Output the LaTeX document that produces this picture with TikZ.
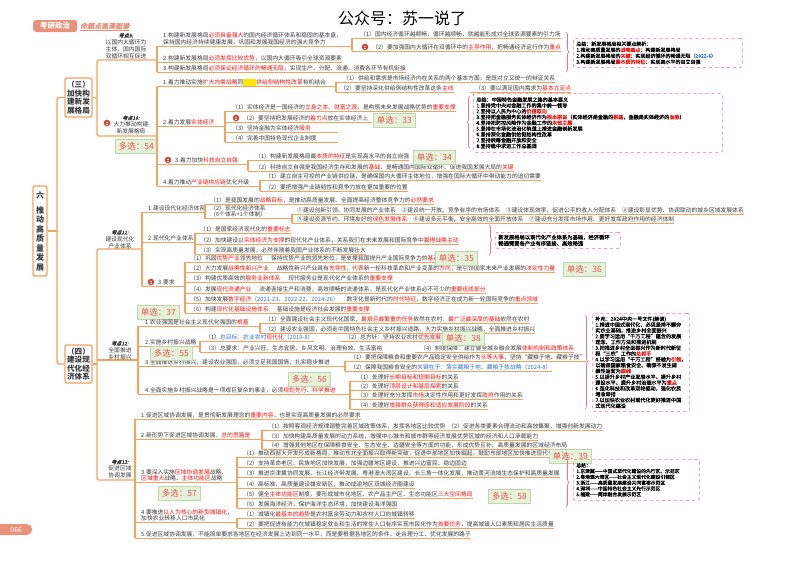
\documentclass[tikz,border=0pt]{standalone}
\usepackage{fontspec}
\setmainfont{Noto Sans CJK SC}
\newfontfamily\kdf[FakeSlant=0.2,FakeBold=2]{Noto Sans CJK SC}
\newfontfamily\sumf[FakeBold=0.6]{Noto Sans CJK SC}
\usetikzlibrary{decorations.pathreplacing}
\definecolor{lc}{HTML}{F3A35E}
\definecolor{hl}{HTML}{E8150F}
\definecolor{blu}{HTML}{2F6FD0}
\definecolor{tc}{HTML}{3A3A3A}
\definecolor{pk}{HTML}{F0708A}
\definecolor{gf}{HTML}{E6F1DA}
\definecolor{gd}{HTML}{BCD9A6}
\definecolor{gt}{HTML}{E2574C}
\definecolor{sal}{HTML}{E8927C}
\definecolor{ic}{HTML}{E03A2E}
\definecolor{yhl}{HTML}{FFE600}
\newcommand\hlr[1]{\textcolor{hl}{#1}}
\newcommand\hlb[1]{\textcolor{blu}{#1}}
\newcommand\kdh[1]{{\kdf\fontsize{5}{7}\selectfont #1}}
\newcommand\ybx{{\setlength{\fboxsep}{0pt}\colorbox{yhl}{\rule[-1.5pt]{0pt}{7pt}\hspace{13pt}}}}
\newcommand\itm[5]{%
 \node[txt] (#1) at (#3,#4) {#5};
 \coordinate (#1e) at ([yshift=-1.2pt]#1.south east);
 \coordinate (#1s) at (#2,0);
 \draw[ul] (#1e) -- (#1e -| #1s);}
\newcommand\ext[2]{\coordinate (#1x) at (#2,0);\draw[ul] (#1e) -- (#1e -| #1x);}
\newcommand\brk[2]{\draw[ul] (#1e -| #1s) -- (#2e -| #2s);}
\newcommand\sel[4]{\node[selbox] (#1) at (#2,#3) {#4};}
\newcommand\icon[3]{\node[iconc] (#1) at (#2,#3) {};
 \draw[white,line width=0.5pt] ([xshift=-1.3pt,yshift=0.7pt]#1.center) -- ([xshift=1.3pt,yshift=0.7pt]#1.center)
 ([xshift=-1.3pt,yshift=-0.8pt]#1.center) -- ([xshift=0.5pt,yshift=-0.8pt]#1.center);}
\begin{document}
\begin{tikzpicture}[x=1pt,y=-1pt,
 txt/.style={inner sep=0pt, font=\fontsize{5.8}{6.5}\selectfont, text=tc, anchor=west, align=left},
 ul/.style={draw=lc, line width=1.1pt},
 conn/.style={draw=lc, line width=1.3pt, rounded corners=2pt},
 kd/.style={inner sep=0pt, align=center, font=\fontsize{5.8}{7}\selectfont, text=tc},
 bigbox/.style={draw=lc, line width=1.3pt, rounded corners=2pt, fill=white, align=center, inner sep=1pt, text=tc},
 selbox/.style={anchor=north west, fill=gf, draw=gd, line width=0.6pt, minimum width=42pt, minimum height=13.5pt, inner sep=0pt, text=gt, font=\fontsize{8.5}{9}\selectfont},
 iconc/.style={circle, fill=ic, minimum size=6.5pt, inner sep=0pt},
 sumbox/.style={anchor=north west, draw=pk, dashed, line width=0.7pt, rounded corners=2pt, align=left, text=black, inner sep=3pt, font=\sumf\fontsize{5}{6}\selectfont},
 brc/.style={draw=pk, line width=0.7pt, decorate, decoration={brace, amplitude=3pt}}
]
\useasboundingbox (0,0) rectangle (800,562);
\fill[white] (0,0) rectangle (800,562);

% header
\node[fill=sal, rounded corners=3pt, text=white, font=\fontsize{7.5}{8}\selectfont\bfseries, minimum width=44pt, minimum height=12pt, inner sep=0pt, anchor=west] (hd1) at (33,26) {考研政治};
\node[text=sal, font=\kdf\fontsize{7}{8}\selectfont, anchor=west, inner sep=0pt] (hd2) at (80,26) {命题点高清图谱};
\draw[sal, line width=0.6pt] ([yshift=-1pt]hd2.south west) -- ([yshift=-1pt]hd2.south east);
\node[font=\fontsize{16}{18}\selectfont, text=black] (title) at (402,18) {公众号：苏一说了};

% main boxes
\node[bigbox, minimum width=14pt, minimum height=90pt, font=\fontsize{8}{9.5}\selectfont\bfseries] (liu) at (40,231) {六\\[5.5pt]推\\动\\高\\质\\量\\发\\展};
\node[bigbox, minimum width=27pt, minimum height=39pt, font=\fontsize{7.6}{8.5}\selectfont\bfseries] (san) at (78.5,97.5) {（三）\\加快构\\建新发\\展格局};
\node[bigbox, minimum width=27pt, minimum height=38pt, font=\fontsize{7.6}{8.5}\selectfont\bfseries] (si) at (78.5,364) {（四）\\建设现\\代化经\\济体系};

\draw[conn] (liu.east) -- (57,231);
\draw[conn] (san.west) -- (57,97.5) -- (57,364) -- (si.west);
\draw[conn] (san.east) -- (97,97.5);
\draw[conn] (157,60) -- (97,60) -- (97,136) -- (157,136);
\draw[conn] (si.east) -- (97,364);
\draw[conn] (142,249) -- (97,249) -- (97,480) -- (135,480);
\draw[conn] (97,360) -- (138,360);

% kaodian labels
\node[kd] (k9) at (126,46) {\kdh{考点9:}\\以国内大循环为\\主体、国内国际\\双循环相互促进};
\node[kd] (k10) at (131,125) {\kdh{考点10:}\\大力推动构建\\新发展格局};
\icon{ik10}{107}{123}
\sel{s54}{115}{139}{多选：54}
\node[kd] (k11) at (120,239.5) {\kdh{考点11:}\\建设现代化\\产业体系};
\node[kd] (k12) at (120,350.5) {\kdh{考点12:}\\全面推进\\乡村振兴};
\node[kd] (k13) at (120,469) {\kdh{考点13:}\\促进区域\\协调发展};

% ===== kaodian 9
\itm{a1}{157}{163}{39}{1.构建新发展格局\hlr{必须具备强大}的国内经济循环体系和稳固的基本盘，\\保持国内经济持续健康发展，巩固和发展我国经济的强大竞争力}
\itm{a2}{157}{163}{58}{2.构建新发展格局\hlr{必须发挥比较优势}，以国内大循环吸引全球资源要素}
\itm{a3}{157}{163}{68}{3.构建新发展格局\hlr{必须保证经济循环的畅通无阻}，实现生产、分配、流通、消费各环节有机衔接}
\brk{a1}{a3}
\itm{a11}{352}{360}{34}{（1）国内经济循环越顺畅，循环越顺畅，就越能形成对全球资源要素的引力场}
\icon{ia12}{365}{47}
\itm{a12}{352}{372}{47}{（2）要加强国内大循环在双循环中的\hlr{主导作用}，把畅通经济运行作为\hlr{重点}}
\ext{a1}{352}
\brk{a11}{a12}
\draw[brc] (566,32) -- (566,72);
\node[sumbox, minimum width=169pt, minimum height=29pt, text width=163pt] (sum1) at (573,38) {总结：新发展格局相关要点解析：\\1.推动高质量发展的\hlr{战略基点}：构建新发展格局\\2.构建新发展格局的\hlr{关键}：实现经济循环的畅通无阻\hlb{（2022-6）}\\3.构建新发展格局\hlr{最本质的特征}：实现高水平的自立自强};

% ===== kaodian 10
\itm{b1}{157}{163}{82}{1.着力推动实施\hlr{扩大内需战略}同\ybx\hlr{供给侧结构性改革}有机结合}
\itm{b2}{157}{163}{122}{2.着力发展\hlr{实体经济}}
\icon{ib3}{168}{160}
\itm{b3}{157}{175}{160}{3.着力加快\hlr{科技自立自强}}
\itm{b4}{157}{163}{182}{4.着力推动\hlr{产业链供应链}优化升级}
\brk{b1}{b4}
\itm{b11}{336}{343}{78}{（1）供给和需求是市场经济内在关系的两个基本方面，是既对立又统一的辩证关系}
\itm{b12}{336}{340}{88}{（2）要坚持深化供给侧结构性改革这条\hlr{主线}}
\itm{b13}{470}{475}{88}{（3）要以满足国内需求为\hlr{基本立足点}}
\ext{b1}{336}
\brk{b11}{b12}
\itm{b21}{225}{232}{107}{（1）实体经济是一国经济的\hlr{立身之本、财富之源}，是构筑未来发展战略优势的\hlr{重要支撑}}
\icon{ib22}{236}{118}
\itm{b22}{225}{243}{118}{（2）要坚持把发展经济的\hlr{着力点}放在实体经济上}
\itm{b23}{225}{232}{128}{（3）坚持金融为实体经济\hlr{服务}}
\itm{b24}{225}{232}{138}{（4）完善中国特色现代企业制度}
\ext{b2}{225}
\ext{b22}{372}
\ext{b23}{338}
\ext{b24}{338}
\brk{b21}{b24}
\sel{s33}{373}{113}{单选：33}
\draw[brc] (470,148) -- (470,96);
\node[sumbox, minimum width=249pt, minimum height=59pt, text width=243pt, font=\sumf\fontsize{5.1}{5.8}\selectfont] (sum2) at (473,93) {总结：中国特色金融发展之路的基本要义\\1.坚持党中央对金融工作的集中统一领导\\2.坚持以人民为中心的\hlr{价值取向}\\3.坚持把金融服务实体经济作为\hlr{根本宗旨}（实体经济是金融的\hlr{根基}，金融是实体经济的\hlr{血脉}）\\4.坚持把防控风险作为金融工作的\hlr{永恒主题}\\5.坚持在市场化法治化轨道上推进金融创新发展\\6.坚持深化金融供给侧结构性改革\\7.坚持统筹金融开放和安全\\8.坚持稳中求进工作总基调};
\itm{b31}{248}{255}{156}{（1）构建新发展格局最\hlr{本质的特征}是实现高水平的自立自强}
\itm{b32}{248}{255}{167}{（2）科技自立自强是我国经济生存和发展的\hlr{基础}，是畅通国内国际双循环、促进我国发展大局的\hlr{关键}}
\ext{b3}{248}
\brk{b31}{b32}
\sel{s34}{413}{150}{单选：34}
\itm{b41}{260}{265}{176}{（1）建立自主可控的产业链供应链，是确保国内大循环主体地位，增强在国际大循环中带动能力的迫切需要}
\itm{b42}{260}{265}{187}{（2）要把增强产业链韧性和竞争力放在更加重要的位置}
\ext{b4}{260}
\brk{b41}{b42}

% ===== kaodian 11
\itm{c1}{142}{148}{208}{1.建设现代化经济体系}
\itm{c2}{142}{148}{238}{2.现代化产业体系}
\icon{ic3}{151}{282}
\itm{c3}{142}{158}{282}{3.要求}
\brk{c1}{c3}
\itm{c11}{205}{210}{200}{（1）是我国发展的\hlr{战略目标}，是推动高质量发展、全面提高经济整体竞争力的\hlr{必然要求}}
\itm{c12}{205}{210}{211.5}{（2）现代化经济体系\\（6个体系+1个体制）}
\ext{c1}{205}
\brk{c11}{c12}
\itm{c121}{292}{297}{210}{①建设创新引领、协同发展的产业体系\quad ②建设统一开放、竞争有序的市场体系\quad ③建设体现效率、促进公平的收入分配体系\quad ④建设彰显优势、协调联动的城乡区域发展体系}
\itm{c122}{292}{297}{219}{⑤建设资源节约、环境友好的\hlr{绿色发展体系}\quad ⑥建设多元平衡、安全高效的全面开放体系\quad ⑦建设充分发挥市场作用、更好发挥政府作用的经济体制}
\ext{c12}{292}
\brk{c121}{c122}
\itm{c21}{195}{200}{229}{（1）是国家经济现代化的\hlr{重要标志}}
\itm{c22}{195}{200}{240}{（2）加快建设以\hlr{实体经济为支撑}的现代化产业体系，关系我们在未来发展和国际竞争中\hlr{赢得战略主动}}
\itm{c23}{195}{200}{250}{（3）实现高质量发展，必然伴随着我国产业体系的不断发展壮大}
\ext{c2}{195}
\brk{c21}{c23}
\draw[brc] (489,225) -- (489,255);
\node[sumbox, minimum width=125pt, minimum height=16pt, text width=119pt, font=\sumf\fontsize{5.3}{6.2}\selectfont, inner ysep=1.5pt] (sum3) at (495,232) {新发展格局以现代化产业体系为基础，经济循环\\畅通需要各产业有序链接、高效畅通};
\itm{c31}{185}{190}{258}{（1）巩固\hlr{优势产业}领先地位\hspace{8pt}保持优势产业的领先地位，是支撑我国提升产业国际竞争力的\hlr{基石}}
\itm{c32}{185}{190}{268}{（2）大力发展\hlr{战略性新兴产业}\hspace{8pt}战略性新兴产业具有\hlr{先导性}，\hlr{代表}新一轮科技革命和产业变革的\hlr{方向}，是引领国家未来产业发展的\hlr{决定性力量}}
\itm{c33}{185}{190}{278}{（3）构建优质高效的\hlr{服务业新体系}\hspace{8pt}现代服务业是现代化产业体系的\hlr{重要支撑}}
\itm{c34}{185}{190}{289}{（4）发展\hlr{现代流通产业}\hspace{8pt}流通连接生产和消费，高效顺畅的流通体系，是现代化产业体系必不可少的\hlr{重要组成部分}}
\itm{c35}{185}{190}{299}{（5）加快发展\hlr{数字经济}\hlb{（2021-23、2022-22、2024-26）}\hspace{8pt}数字化是新时代的\hlr{时代特征}，数字经济正在成为新一轮国际竞争的\hlr{重点领域}}
\itm{c36}{185}{190}{309}{（6）构建\hlr{现代化基础设施体系}\hspace{8pt}基础设施是经济社会发展的\hlr{重要支撑}}
\ext{c3}{185}
\brk{c31}{c36}
\sel{s35}{435}{251}{单选：35}
\sel{s36}{563}{262}{单选：36}
\sel{s37}{137}{305}{单选：37}

% ===== kaodian 12
\itm{d1}{138}{145}{322}{1.农业强国是社会主义现代化强国的\hlr{根基}}
\itm{d2}{138}{145}{342}{2.实施乡村振兴战略}
\itm{d3}{138}{145}{362}{3.全面推进乡村振兴，建设农业强国，必须立足我国国情，扎实稳步推进}
\itm{d4}{138}{145}{390}{4.全面实施乡村振兴战略是一项艰巨复杂的事业，必须\hlr{规划先行、科学推进}}
\brk{d1}{d4}
\itm{d11}{260}{265}{319}{（1）全面建设社会主义现代化国家，\hlr{最艰巨最繁重的任务}依然在农村，\hlr{最广泛最深厚的基础}依然在农村}
\itm{d12}{260}{265}{329}{（2）建设农业强国，必须走中国特色社会主义乡村振兴道路，大力实施乡村振兴战略，全面推进乡村振兴}
\ext{d1}{260}
\brk{d11}{d12}
\itm{d21}{200}{205}{337}{（1）\hlb{总目标：农业农村}\hlr{现代化}\hlb{（2019-8）}}
\itm{d22}{340}{345}{337}{（2）总方针：坚持农业农村\hlr{优先发展}}
\itm{d23}{200}{205}{348}{（3）总要求：产业兴旺、生态宜居、乡风文明、治理有效、生活富裕}
\itm{d24}{415}{420}{348}{（4）制度保障：建立健全城乡融合发展\hlr{体制机制和政策体系}}
\ext{d2}{200}
\brk{d21}{d23}
\sel{s38}{442}{331}{单选：38}
\sel{s55}{150}{346}{多选：55}
\itm{d31}{345}{350}{357}{（1）要把保障粮食和重要农产品稳定安全供给作为\hlr{头等大事}，坚持“藏粮于地、藏粮于技”}
\itm{d32}{345}{350}{367}{（2）保障我国粮食安全的\hlb{关键在于：落实藏粮于地、藏粮于技战略（2024-8）}}
\ext{d3}{345}
\brk{d31}{d32}
\itm{d41}{350}{357}{377}{（1）处理好\hlr{长期目标和短期目标}的关系}
\itm{d42}{350}{357}{386}{（2）处理好\hlr{顶层设计和基层探索}的关系}
\itm{d43}{350}{357}{395}{（3）处理好充分发挥\hlr{市场}决定性作用和更好发挥\hlr{政府}作用的关系}
\itm{d44}{350}{357}{405}{（4）处理好\hlr{增强群众获得感和适应发展阶段}的关系}
\ext{d4}{350}
\brk{d41}{d44}
\sel{s56}{288}{372}{多选：56}
\draw[brc] (585,315) -- (585,409);
\node[sumbox, minimum width=97pt, minimum height=98pt, text width=91pt, font=\sumf\fontsize{5.1}{5.8}\selectfont] (sum4) at (592,313) {补充：2024中央一号文件(解读)\\1.推进中国式现代化，必须坚持不懈夯\\实农业基础，推进乡村全面振兴\\2.要学习运用“千万工程”蕴含的发展\\理念、工作方法和推进机制\\3.把推进乡村全面振兴作为新时代新征\\程“三农”工作的\hlr{总抓手}\\4.以学习运用“千万工程”经验为\hlr{引领}，\\以确保国家粮食安全、确保不发生规\\模性返贫为\hlr{底线}\\5.以提升乡村产业发展水平、提升乡村\\建设水平、提升乡村治理水平为\hlr{重点}\\6.强化科技和改革双轮驱动，强化农民\\增收举措\\7.以加快农业农村现代化更好推进中国\\式现代化建设};

% ===== kaodian 13
\itm{e1}{135}{141}{415}{1.促进区域协调发展，是贯彻新发展理念的\hlr{重要内容}，也是实现高质量发展的必然要求}
\itm{e2}{135}{141}{435}{2.新形势下促进区域协调发展，\hlr{总的思路是}}
\itm{e3}{135}{141}{475.5}{3.要深入实施\hlr{区域协调发展}战略、\\\hlr{区域重大}战略、\hlr{主体功能区}战略}
\itm{e4}{135}{141}{515.5}{4.要推进\hlr{以人为核心的新型城镇化}，\\加快农业转移人口市民化}
\itm{e5}{135}{141}{534}{5.促进区域协调发展，不能简单要求各地区在经济发展上达到同一水平，而是要根据各地区的条件，走合理分工、优化发展的路子}
\brk{e1}{e5}
\itm{e21}{262}{268}{426}{（1）按照客观经济规律调整完善区域政策体系，发挥各地区比较优势}
\itm{e22}{443}{448}{426}{（2）促进各类要素合理流动和高效集聚，增强创新发展动力}
\itm{e23}{262}{268}{436}{（3）加快构建高质量发展的动力系统，增强中心城市和城市群等经济发展优势区域的经济和人口承载能力}
\itm{e24}{262}{268}{445}{（4）增强其他地区在保障粮食安全、生态安全、边疆安全等方面的功能，形成优势互补、高质量发展的区域经济布局}
\ext{e2}{262}
\brk{e21}{e24}
\itm{e31}{237}{243}{453}{（1）推动西部大开发形成新格局，推动东北全面振兴取得新突破，促进中部地区加快崛起，鼓励东部地区加快推进现代化}
\itm{e32}{237}{243}{463}{（2）支持革命老区、民族地区加快发展，加强边疆地区建设，推进兴边富民、稳边固边}
\itm{e33}{237}{243}{473}{（3）推进京津冀协同发展、长江经济带发展、粤港澳大湾区建设、长三角一体化发展，推动黄河流域生态保护和高质量发展}
\itm{e34}{237}{243}{484}{（4）高标准、高质量建设雄安新区，推动成渝地区双城经济圈建设}
\itm{e35}{237}{243}{494}{（5）健全\hlr{主体功能区}制度，要形成城市化地区、农产品主产区、生态功能区\hlr{三大空间格局}}
\itm{e36}{237}{243}{504}{（6）发展海洋经济，保护海洋生态环境，加快建设海洋强国}
\ext{e3}{237}
\brk{e31}{e36}
\sel{s39}{549}{449}{单选：39}
\sel{s58}{488}{489}{多选：58}
\sel{s57}{158}{486}{多选：57}
\draw[brc] (566,458) -- (566,507);
\node[sumbox, minimum width=125pt, minimum height=41pt, text width=120pt, font=\sumf\fontsize{4.8}{5.8}\selectfont] (sum5) at (573,459) {总结：\\1.京津冀——中国式现代化建设的先行区、示范区\\2.粤港澳大湾区——社会主义现代化建设引领区\\3.浙江——高质量发展建设共同富裕示范区\\4.深圳——中国特色社会主义先行示范区\\5.福建——两岸融合发展示范区};
\itm{e41}{237}{243}{514}{（1）城镇化\hlr{最基本的趋势}是农村富余劳动力和农村人口向城镇转移}
\itm{e42}{237}{243}{524}{（2）要把促进有能力在城镇稳定就业和生活的常住人口有序实现市民化作为\hlr{首要任务}，提高城镇人口素质和居民生活质量}
\ext{e4}{237}
\brk{e41}{e42}

% page number
\node[fill=sal, text=white, font=\fontsize{7}{8}\selectfont, minimum width=38pt, minimum height=11pt, inner sep=0pt, rounded corners=5.5pt, anchor=west] (pg) at (-6,529.5) {\hspace{6pt}066};
\end{tikzpicture}
\end{document}
